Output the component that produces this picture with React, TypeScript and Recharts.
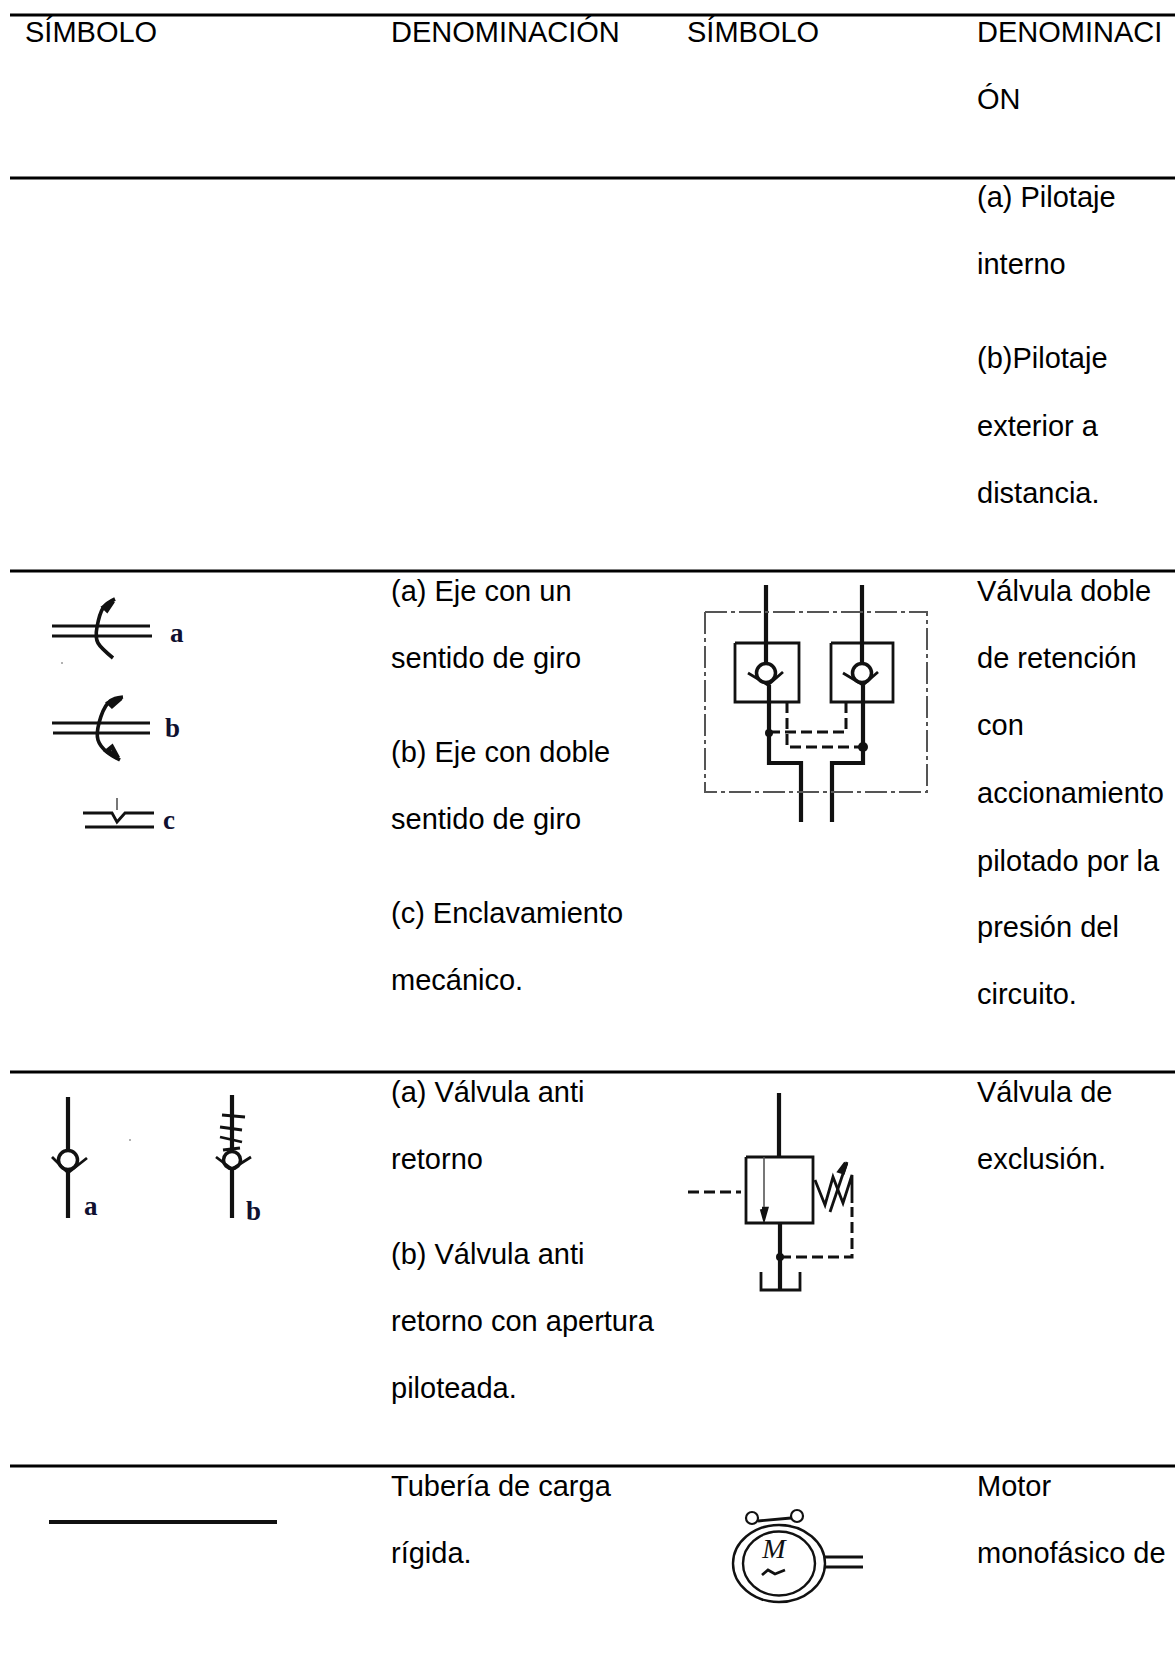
import React from 'react';
import { ComposedChart, Line, ReferenceLine, Scatter, XAxis, YAxis } from 'recharts';

const WIDTH = 1175;
const HEIGHT = 1675;

const ruleRows = [15, 178, 571, 1072, 1466];

const headerCells = [
  { x: 25, y: 41.5, text: 'SÍMBOLO' },
  { x: 391, y: 41.5, text: 'DENOMINACIÓN' },
  { x: 687, y: 41.5, text: 'SÍMBOLO' },
  { x: 977, y: 41.5, text: 'DENOMINACI' },
  { x: 977, y: 108.5, text: 'ÓN' },
];

const secondColumn = [
  { x: 391, y: 600.5, text: '(a) Eje con un' },
  { x: 391, y: 667.5, text: 'sentido de giro' },
  { x: 391, y: 761.5, text: '(b) Eje con doble' },
  { x: 391, y: 828.5, text: 'sentido de giro' },
  { x: 391, y: 922.5, text: '(c) Enclavamiento' },
  { x: 391, y: 989.5, text: 'mecánico.' },
  { x: 391, y: 1101.5, text: '(a) Válvula anti' },
  { x: 391, y: 1168.5, text: 'retorno' },
  { x: 391, y: 1263.5, text: '(b) Válvula anti' },
  { x: 391, y: 1330.5, text: 'retorno con apertura' },
  { x: 391, y: 1397.5, text: 'piloteada.' },
  { x: 391, y: 1495.5, text: 'Tubería de carga' },
  { x: 391, y: 1562.5, text: 'rígida.' },
];

const fourthColumn = [
  { x: 977, y: 206.5, text: '(a) Pilotaje' },
  { x: 977, y: 273.5, text: 'interno' },
  { x: 977, y: 367.5, text: '(b)Pilotaje' },
  { x: 977, y: 435.5, text: 'exterior a' },
  { x: 977, y: 502.5, text: 'distancia.' },
  { x: 977, y: 600.5, text: 'Válvula doble' },
  { x: 977, y: 667.5, text: 'de retención' },
  { x: 977, y: 734.5, text: 'con' },
  { x: 977, y: 802.5, text: 'accionamiento' },
  { x: 977, y: 870.5, text: 'pilotado por la' },
  { x: 977, y: 936.5, text: 'presión del' },
  { x: 977, y: 1003.5, text: 'circuito.' },
  { x: 977, y: 1101.5, text: 'Válvula de' },
  { x: 977, y: 1168.5, text: 'exclusión.' },
  { x: 977, y: 1495.5, text: 'Motor' },
  { x: 977, y: 1562.5, text: 'monofásico de' },
];

const symbolLetters = [
  { x: 170, y: 642, text: 'a' },
  { x: 165, y: 737, text: 'b' },
  { x: 163, y: 829, text: 'c' },
  { x: 84, y: 1215, text: 'a' },
  { x: 246, y: 1220, text: 'b' },
];

const motorLetters = [{ x: 774, y: 1558, text: 'M' }];

type P = number[];
const thin: P[][] = [
  [[52, 626], [150, 626]],
  [[52, 636], [152, 636]],
  [[52, 723], [150, 723]],
  [[53, 733], [150, 733]],
  [[83, 813], [112, 813], [117, 822], [125, 813], [154, 813]],
  [[85, 827], [154, 827]],
  [[735, 643], [799, 643], [799, 702], [735, 702], [735, 643]],
  [[831, 643], [893, 643], [893, 702], [831, 702], [831, 643]],
  [[748, 673], [768, 685], [783, 672]],
  [[843, 673], [863, 685], [878, 672]],
  [[52, 1157], [68, 1173], [87, 1158]],
  [[216, 1157], [232, 1169], [251, 1157]],
  [[222, 1115], [245, 1117]],
  [[220, 1127], [242, 1130]],
  [[220, 1137], [242, 1142]],
  [[223, 1150], [240, 1148]],
  [[746, 1157], [813, 1157], [813, 1223], [746, 1223], [746, 1157]],
  [[815, 1180], [825, 1205], [833, 1177], [843, 1203], [852, 1175], [852, 1203]],
  [[830, 1212], [847, 1162]],
  [[761, 1272], [761, 1290], [800, 1290], [800, 1272]],
  [[825, 1557], [863, 1557]],
  [[825, 1567], [863, 1567]],
  [[758, 1521], [791, 1518]],
  [[762, 1575], [768, 1570], [775, 1574], [785, 1570]],
];

const heavy: P[][] = [
  [[766, 585], [766, 664]],
  [[862, 585], [862, 664]],
  [[769, 685], [769, 763], [801, 763], [801, 822]],
  [[863, 685], [863, 763], [832, 763], [832, 822]],
  [[68, 1097], [68, 1151]],
  [[68, 1173], [68, 1218]],
  [[232, 1095], [232, 1152]],
  [[232, 1169], [232, 1218]],
  [[779, 1093], [779, 1157]],
  [[780, 1223], [780, 1289]],
  [[49, 1522], [277, 1522]],
];

const arcs: P[][] = [
  [[115, 599], [103, 608], [97, 627], [98, 643], [113, 658]],
  [[123, 697], [108, 703], [99, 723], [98, 740], [107, 752], [120, 760]],
];

const arrowheads: P[][] = [
  [[113, 601], [104, 607], [107, 610], [113, 601]],
  [[121, 698], [109, 703], [112, 706], [121, 698]],
  [[118, 758], [107, 751], [112, 747], [118, 758]],
  [[762, 1209], [764, 1216], [766, 1209], [762, 1209]],
  [[846, 1163], [840, 1171], [843, 1172], [846, 1163]],
];

const dashed: P[][] = [
  [[787, 702], [787, 747], [863, 747]],
  [[846, 702], [846, 732], [769, 732]],
  [[688, 1192], [741, 1192]],
  [[780, 1257], [852, 1257], [852, 1207]],
];

const hairlines: P[][] = [
  [[764, 1157], [764, 1207]],
  [[117, 798], [117, 810]],
];

const dashDotBox: P[] = [[705, 612], [927, 612], [927, 792], [705, 792], [705, 612]];

const rings = [
  { x: 766, y: 673, rx: 9.5, ry: 9.5, w: 3.5 },
  { x: 862, y: 673, rx: 9.5, ry: 9.5, w: 3.5 },
  { x: 68, y: 1160, rx: 9.5, ry: 9.5, w: 3.5 },
  { x: 232, y: 1160, rx: 8.5, ry: 8.5, w: 3.5 },
  { x: 779, y: 1563.5, rx: 46, ry: 38.5, w: 2.4 },
  { x: 779, y: 1563.5, rx: 36, ry: 32, w: 2.4 },
  { x: 752, y: 1518, rx: 6, ry: 6, w: 2.2 },
  { x: 797, y: 1516, rx: 6, ry: 6, w: 2.2 },
];

const dots = [
  { x: 769, y: 733, rx: 4, ry: 4 },
  { x: 863, y: 747, rx: 5, ry: 5 },
  { x: 780, y: 1257, rx: 4, ry: 4 },
];

const specks = [
  { x: 62, y: 663, rx: 1, ry: 1 },
  { x: 130, y: 1140, rx: 1, ry: 1 },
];

const FONT = '"Liberation Sans", Arial, sans-serif';
const SERIF = '"Liberation Serif", serif';

const toRows = (points: P[]) => points.map(([x, y]) => ({ x, y }));

const BodyText = (p: any) => (
  <text x={p.cx} y={p.cy} fontFamily={FONT} fontSize={29} fill="#000">
    {p.payload.text}
  </text>
);
const LetterText = (p: any) => (
  <text x={p.cx} y={p.cy} fontFamily={SERIF} fontSize={27} fontWeight="bold" fill="#101030">
    {p.payload.text}
  </text>
);
const MotorText = (p: any) => (
  <text x={p.cx} y={p.cy} fontFamily={SERIF} fontSize={28} fontStyle="italic" textAnchor="middle" fill="#111">
    {p.payload.text}
  </text>
);
const Ring = (p: any) => (
  <ellipse className="sym" cx={p.cx} cy={p.cy} rx={p.payload.rx} ry={p.payload.ry} fill="none" stroke="#111" strokeWidth={p.payload.w} />
);
const Dot = (p: any) => <ellipse className="sym" cx={p.cx} cy={p.cy} rx={p.payload.rx} ry={p.payload.ry} fill="#111" />;
const Speck = (p: any) => <ellipse cx={p.cx} cy={p.cy} rx={p.payload.rx} ry={p.payload.ry} fill="#999" />;

const strokeGroup = (name: string, list: P[][], width: number, extra: any = {}) =>
  list.map((pts, i) => (
    <Line
      key={`${name}-${i}`}
      data={toRows(pts)}
      dataKey="y"
      type={extra.type ?? 'linear'}
      stroke={extra.stroke ?? '#111'}
      strokeWidth={width}
      strokeDasharray={extra.dash}
      dot={false}
      activeDot={false}
      legendType="none"
      isAnimationActive={false}
    />
  ));

export default function App() {
  return (
    <div style={{ position: 'absolute', left: 0, top: 0, width: WIDTH, height: HEIGHT, background: '#fff' }}>
      {/* the symbols in the original are scanned, so soften them a bit */}
      <style>{`.sym, .recharts-line-curve { filter: blur(0.7px); }`}</style>
      <ComposedChart width={WIDTH} height={HEIGHT} margin={{ top: 0, right: 0, bottom: 0, left: 0 }}>
        <XAxis dataKey="x" type="number" domain={[0, WIDTH]} hide />
        <YAxis dataKey="y" type="number" domain={[0, HEIGHT]} reversed hide />
        {ruleRows.map((y) => (
          <ReferenceLine key={y} segment={[{ x: 10, y }, { x: WIDTH, y }]} stroke="#000" strokeWidth={3} />
        ))}
        {strokeGroup('thin', thin, 2.8)}
        {strokeGroup('heavy', heavy, 4.2)}
        {strokeGroup('arc', arcs, 3.6, { type: 'natural' })}
        {strokeGroup('head', arrowheads, 4.5)}
        {strokeGroup('dash', dashed, 3, { dash: '11 5' })}
        {strokeGroup('hair', hairlines, 1.6, { stroke: '#555' })}
        {strokeGroup('box', [dashDotBox], 2, { stroke: '#555', dash: '22 4 4 4' })}
        <Scatter data={rings} shape={Ring} isAnimationActive={false} />
        <Scatter data={dots} shape={Dot} isAnimationActive={false} />
        <Scatter data={specks} shape={Speck} isAnimationActive={false} />
        <Scatter data={headerCells} shape={BodyText} isAnimationActive={false} />
        <Scatter data={secondColumn} shape={BodyText} isAnimationActive={false} />
        <Scatter data={fourthColumn} shape={BodyText} isAnimationActive={false} />
        <Scatter data={symbolLetters} shape={LetterText} isAnimationActive={false} />
        <Scatter data={motorLetters} shape={MotorText} isAnimationActive={false} />
      </ComposedChart>
    </div>
  );
}
